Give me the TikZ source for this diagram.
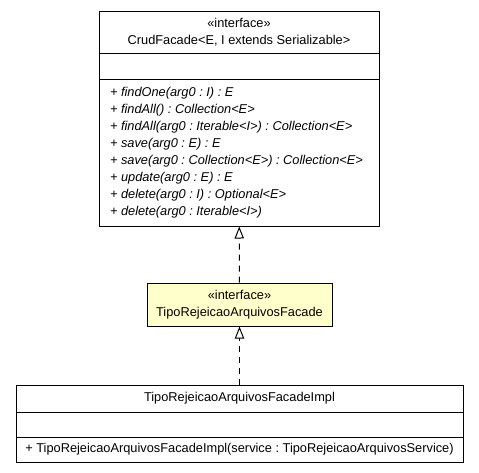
\documentclass[tikz,border=0pt]{standalone}
\usepackage{fontspec}
\setmainfont{Liberation Sans}
\usetikzlibrary{arrows.meta}
\newcommand{\umlfont}{\fontsize{9.6pt}{12.75pt}\selectfont\frenchspacing}
\definecolor{ifacefill}{RGB}{255,255,204}
\tikzset{
  umlbox/.style={shape=rectangle,draw=black,line width=0.75pt,inner sep=0pt,font=\umlfont,align=center},
  realize/.style={-{Triangle[open,length=9pt,width=7pt,fill=white]},line width=0.75pt,dash pattern=on 4.5pt off 3.75pt}
}
\begin{document}
\begin{tikzpicture}[x=0.75pt,y=-0.75pt]
	\useasboundingbox (0,0) rectangle (479,472);

	\node[umlbox,minimum width=210pt,minimum height=31.5pt] (crudhead) at (239,32)
		{«interface»\\CrudFacade<E, I extends Serializable>};
	\node[umlbox,minimum width=210pt,minimum height=19.5pt] (crudattr) at (239,66) {};
	\node[umlbox,minimum width=210pt,minimum height=110.25pt,text width=193.5pt,align=flush left,font=\umlfont\itshape] (crudops) at (239,152.5)
		{+ findOne(arg0 : I) : E\\
		 + findAll() : Collection<E>\\
		 + findAll(arg0 : Iterable<I>) : Collection<E>\\
		 + save(arg0 : E) : E\\
		 + save(arg0 : Collection<E>) : Collection<E>\\
		 + update(arg0 : E) : E\\
		 + delete(arg0 : I) : Optional<E>\\
		 + delete(arg0 : Iterable<I>)};

	\node[umlbox,fill=ifacefill,minimum width=138.75pt,minimum height=32.25pt] (facade) at (239.5,304.5)
		{«interface»\\TipoRejeicaoArquivosFacade};

	\node[umlbox,minimum width=335.25pt,minimum height=20.25pt] (implhead) at (239.5,398.5) {TipoRejeicaoArquivosFacadeImpl};
	\node[umlbox,minimum width=335.25pt,minimum height=18.75pt] (implattr) at (239.5,424.5) {};
	\node[umlbox,minimum width=335.25pt,minimum height=18.75pt] (implops) at (239.5,449.5)
		{+ TipoRejeicaoArquivosFacadeImpl(service : TipoRejeicaoArquivosService)};

	\draw[realize] (facade) -- (crudops);
	\draw[realize] (implhead) -- (facade);
\end{tikzpicture}
\end{document}
